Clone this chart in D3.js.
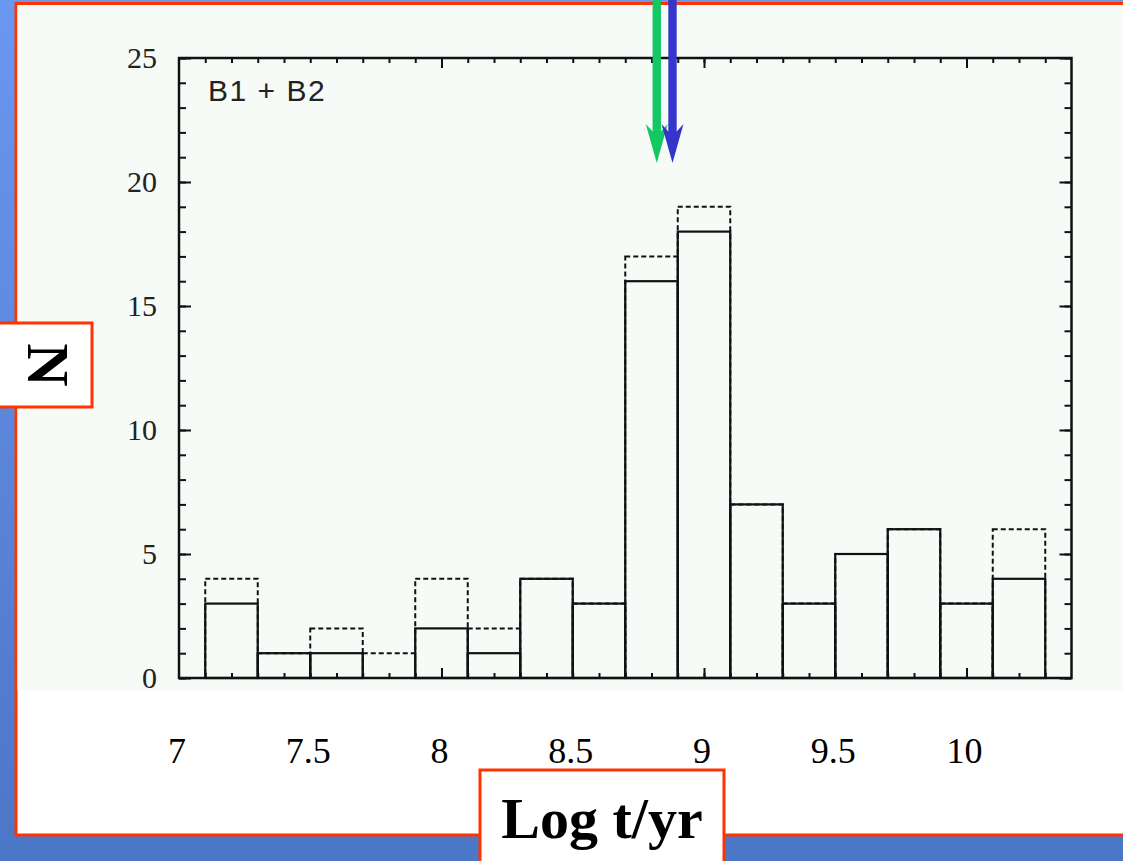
<!DOCTYPE html>
<html>
<head>
<meta charset="utf-8">
<script src="https://cdn.jsdelivr.net/npm/d3@7"></script>
<style>
  body { margin: 0; overflow: hidden; background: #4f79c9; }
</style>
</head>
<body>
<div id="chart"></div>
<script>
// histogram of log ages, bins 0.2 wide
const binStarts = [7.1, 7.3, 7.5, 7.7, 7.9, 8.1, 8.3, 8.5, 8.7, 8.9, 9.1, 9.3, 9.5, 9.7, 9.9, 10.1];
const countsSolid = [3, 1, 1, 0, 2, 1, 4, 3, 16, 18, 7, 3, 5, 6, 3, 4];
const countsDashed = [4, 1, 2, 1, 4, 2, 4, 3, 17, 19, 7, 3, 5, 6, 3, 6];
const binWidth = 0.2;

const yTickLabels = [0, 5, 10, 15, 20, 25];
const xTickLabels = [7, 7.5, 8, 8.5, 9, 9.5, 10];

// the two arrows at the top
const arrowAges = [8.82, 8.88];
const arrowColors = ["#12c862", "#3535cc"];

const panelLabel = "B1 + B2";
const xTitle = "Log t/yr";
const yTitle = "N";

class AgeHistogram {
    constructor(_config) {
        this.config = {
            parentElement: _config.parentElement,
            containerWidth: _config.containerWidth || 1123,
            containerHeight: _config.containerHeight || 861,
            frame: _config.frame || {left: 179, top: 58, right: 1071.5, bottom: 678}
        };
        this.initVis();
    }

    initVis() {
        let vis = this;
        const f = vis.config.frame;

        vis.svg = d3.select(vis.config.parentElement)
            .append("svg")
            .attr("width", vis.config.containerWidth)
            .attr("height", vis.config.containerHeight);

        const grad = vis.svg.append("defs").append("linearGradient")
            .attr("id", "bg").attr("x1", 0).attr("y1", 0).attr("x2", 0).attr("y2", 1);
        grad.append("stop").attr("offset", "0%").attr("stop-color", "#6a97f0");
        grad.append("stop").attr("offset", "100%").attr("stop-color", "#4c76c6");

        vis.svg.append("rect")
            .attr("width", vis.config.containerWidth)
            .attr("height", vis.config.containerHeight)
            .attr("fill", "url(#bg)");

        // slide panel
        vis.svg.append("rect")
            .attr("x", 16).attr("y", 3.5)
            .attr("width", 1200).attr("height", 831.5)
            .attr("fill", "#ffffff")
            .attr("stroke", "#ff3300")
            .attr("stroke-width", 3);

        // pasted plot image background
        vis.svg.append("rect")
            .attr("x", 17.5).attr("y", 5)
            .attr("width", 1110).attr("height", 685.5)
            .attr("fill", "#f7fbf7");

        vis.xScale = d3.scaleLinear()
            .domain([7, 10.4])
            .range([f.left, f.right]);

        vis.yScale = d3.scaleLinear()
            .domain([0, 25])
            .range([f.bottom, f.top]);

        vis.chart = vis.svg.append("g");

        vis.renderVis();
    }

    renderVis() {
        let vis = this;
        const f = vis.config.frame;
        const x = vis.xScale, y = vis.yScale;

        const dashed = binStarts.map((b, i) => ({start: b, n: countsDashed[i]})).filter(d => d.n > 0);
        const solid = binStarts.map((b, i) => ({start: b, n: countsSolid[i]})).filter(d => d.n > 0);

        vis.chart.append("g")
            .selectAll("rect")
            .data(dashed)
            .join("rect")
                .attr("x", d => x(d.start))
                .attr("y", d => y(d.n))
                .attr("width", d => x(d.start + binWidth) - x(d.start))
                .attr("height", d => y(0) - y(d.n))
                .attr("fill", "none")
                .attr("stroke", "#111")
                .attr("stroke-width", 2)
                .attr("stroke-dasharray", "5,3");

        vis.chart.append("g")
            .selectAll("rect")
            .data(solid)
            .join("rect")
                .attr("x", d => x(d.start))
                .attr("y", d => y(d.n))
                .attr("width", d => x(d.start + binWidth) - x(d.start))
                .attr("height", d => y(0) - y(d.n))
                .attr("fill", "none")
                .attr("stroke", "#111")
                .attr("stroke-width", 2.2);

        // ticks on all four sides, pointing inward
        const minorX = d3.range(71, 104).map(d => d / 10);
        const majorX = [8, 9, 10];
        const minorY = d3.range(0, 26);

        const axes = vis.chart.append("g").attr("class", "axes");
        axes.append("g").attr("transform", `translate(0,${f.bottom})`)
            .call(d3.axisBottom(x).tickValues(minorX).tickSize(-5).tickFormat(""));
        axes.append("g").attr("transform", `translate(0,${f.bottom})`)
            .call(d3.axisBottom(x).tickValues(majorX).tickSize(-10).tickFormat(""));
        axes.append("g").attr("transform", `translate(0,${f.top})`)
            .call(d3.axisTop(x).tickValues(minorX).tickSize(-5).tickFormat(""));
        axes.append("g").attr("transform", `translate(0,${f.top})`)
            .call(d3.axisTop(x).tickValues(majorX).tickSize(-10).tickFormat(""));
        axes.append("g").attr("transform", `translate(${f.left},0)`)
            .call(d3.axisLeft(y).tickValues(minorY).tickSize(-7).tickFormat(""));
        axes.append("g").attr("class", "ylab").attr("transform", `translate(${f.left},0)`)
            .call(d3.axisLeft(y).tickValues(yTickLabels).tickSize(-12).tickPadding(22));
        axes.append("g").attr("transform", `translate(${f.right},0)`)
            .call(d3.axisRight(y).tickValues(minorY).tickSize(-7).tickFormat(""));
        axes.append("g").attr("transform", `translate(${f.right},0)`)
            .call(d3.axisRight(y).tickValues(yTickLabels).tickSize(-12).tickFormat(""));

        axes.selectAll(".domain").remove();
        axes.selectAll(".tick line").attr("stroke", "#111").attr("stroke-width", 2);
        axes.selectAll(".ylab text")
            .style("font-family", "'Liberation Serif', 'Times New Roman', serif")
            .style("font-size", "30px")
            .attr("fill", "#222");

        vis.chart.append("rect")
            .attr("x", f.left).attr("y", f.top)
            .attr("width", f.right - f.left)
            .attr("height", f.bottom - f.top)
            .attr("fill", "none")
            .attr("stroke", "#111")
            .attr("stroke-width", 2.5);

        vis.chart.append("text")
            .attr("x", 208).attr("y", 101)
            .style("font-family", "'Liberation Sans', Arial, sans-serif")
            .style("font-size", "30px")
            .style("letter-spacing", "1.5px")
            .attr("fill", "#222")
            .text(panelLabel);

        // x tick labels typed on the slide below the image
        vis.svg.append("g")
            .selectAll("text")
            .data(xTickLabels)
            .join("text")
                .attr("x", d => x(d) - 2)
                .attr("y", 763)
                .attr("text-anchor", "middle")
                .style("font-family", "'Liberation Serif', 'Times New Roman', serif")
                .style("font-size", "36px")
                .attr("fill", "#000")
                .text(d => d);

        // axis title boxes
        vis.svg.append("rect")
            .attr("x", -3).attr("y", 323)
            .attr("width", 95).attr("height", 84)
            .attr("fill", "#fff").attr("stroke", "#ff3300").attr("stroke-width", 3);
        vis.svg.append("text")
            .attr("transform", "translate(48,365) rotate(90)")
            .attr("text-anchor", "middle")
            .attr("dominant-baseline", "central")
            .style("font-family", "'Liberation Serif', 'Times New Roman', serif")
            .style("font-size", "60px")
            .style("font-weight", "bold")
            .text(yTitle);

        vis.svg.append("rect")
            .attr("x", 480).attr("y", 770)
            .attr("width", 244).attr("height", 100)
            .attr("fill", "#fff").attr("stroke", "#ff3300").attr("stroke-width", 3);
        vis.svg.append("text")
            .attr("x", 602).attr("y", 838)
            .attr("text-anchor", "middle")
            .style("font-family", "'Liberation Serif', 'Times New Roman', serif")
            .style("font-size", "58px")
            .style("font-weight", "bold")
            .text(xTitle);

        // arrows
        const tipY = 163, barbY = 124, notchY = 136, half = 11, shaft = 4.2;
        const arrows = vis.svg.append("g")
            .selectAll("g")
            .data(arrowAges.map((a, i) => ({age: a, color: arrowColors[i]})))
            .join("g");
        arrows.append("rect")
            .attr("x", d => x(d.age) - shaft)
            .attr("y", -2)
            .attr("width", shaft * 2)
            .attr("height", notchY + 2)
            .attr("fill", d => d.color);
        arrows.append("path")
            .attr("d", d => {
                const cx = x(d.age);
                return `M${cx - half},${barbY} L${cx},${tipY} L${cx + half},${barbY} L${cx},${notchY} Z`;
            })
            .attr("fill", d => d.color);
    }
}

new AgeHistogram({parentElement: "#chart"});
</script>
</body>
</html>
